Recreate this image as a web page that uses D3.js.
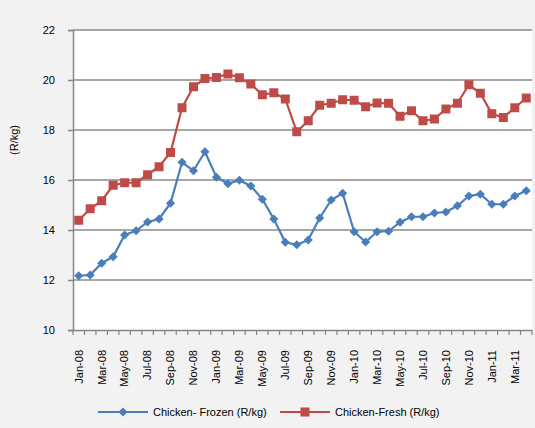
<!DOCTYPE html>
<html><head><meta charset="utf-8">
<script src="https://cdn.jsdelivr.net/npm/d3@7"></script>
<style>body{margin:0;background:#f2f2f2;}svg{display:block;font-family:"Liberation Sans",Arial,sans-serif;}</style>
</head><body><svg id="c" width="535" height="428"></svg>
<script>
const months = ["Jan-08","Feb-08","Mar-08","Apr-08","May-08","Jun-08","Jul-08","Aug-08","Sep-08","Oct-08","Nov-08","Dec-08",
"Jan-09","Feb-09","Mar-09","Apr-09","May-09","Jun-09","Jul-09","Aug-09","Sep-09","Oct-09","Nov-09","Dec-09",
"Jan-10","Feb-10","Mar-10","Apr-10","May-10","Jun-10","Jul-10","Aug-10","Sep-10","Oct-10","Nov-10","Dec-10",
"Jan-11","Feb-11","Mar-11","Apr-11"];
const frozen = [12.17,12.2,12.67,12.93,13.8,13.97,14.32,14.44,15.07,16.71,16.37,17.13,
16.11,15.85,15.99,15.76,15.23,14.44,13.51,13.41,13.6,14.48,15.2,15.47,
13.93,13.52,13.93,13.95,14.31,14.53,14.53,14.68,14.72,14.97,15.36,15.43,
15.03,15.03,15.36,15.57];
const fresh = [14.39,14.85,15.17,15.79,15.89,15.89,16.21,16.53,17.1,18.89,19.73,20.06,
20.1,20.24,20.09,19.84,19.41,19.49,19.24,17.93,18.37,18.99,19.07,19.21,
19.19,18.93,19.08,19.07,18.55,18.77,18.37,18.44,18.84,19.07,19.81,19.47,
18.65,18.5,18.89,19.28];
const yTicks = [10,12,14,16,18,20,22];
const seriesNames = ["Chicken- Frozen (R/kg)","Chicken-Fresh (R/kg)"];
const colors = ["#4a7ebb","#be4b48"];

const svg = d3.select("#c");
const L=73,R=532,T=30,B=330;
const x = d3.scaleBand().domain(months).range([L,R]).padding(0);
const y = d3.scaleLinear().domain([10,22]).range([B,T]);
const cx = d => x(d)+x.bandwidth()/2;

svg.append("rect").attr("x",L).attr("y",T).attr("width",R-L).attr("height",B-T).attr("fill","#fff");

// gridlines + y axis
const ya = svg.append("g").attr("transform",`translate(${L},0)`)
  .call(d3.axisLeft(y).tickValues(yTicks).tickSize(5).tickPadding(13).tickFormat(d3.format("d")));
ya.select(".domain").attr("stroke","#868686").attr("stroke-width",1.5);
ya.selectAll(".tick line").attr("stroke","#868686").attr("stroke-width",1.5);
ya.selectAll(".tick text").attr("font-size",11).attr("fill","#000").attr("font-family","Liberation Sans, Arial");
const grid = svg.append("g");
grid.selectAll("line").data(yTicks.filter(v=>v>10)).join("line")
  .attr("x1",L).attr("x2",R).attr("y1",d=>y(d)).attr("y2",d=>y(d))
  .attr("stroke","#8a8a8a").attr("stroke-width",1.5);

// x axis
const xa = svg.append("g").attr("transform",`translate(0,${B})`)
  .call(d3.axisBottom(x).tickSize(0).tickFormat((d,i)=> i%2===0? d : ""));
xa.select(".domain").attr("stroke","#868686").attr("stroke-width",1.5);
xa.selectAll(".tick text").attr("font-size",11).attr("fill","#000")
  .attr("text-anchor","end").attr("dy","0.35em")
  .attr("transform","translate(0,20) rotate(-90)").attr("x",0).attr("y",0);
svg.append("g").selectAll("line").data(months.concat(["end"])).join("line")
  .attr("x1",(d,i)=> i<months.length? x(d) : R).attr("x2",(d,i)=> i<months.length? x(d) : R)
  .attr("y1",B).attr("y2",B+5).attr("stroke","#868686").attr("stroke-width",1.2);

// y title
svg.append("text").attr("transform","translate(18,140) rotate(-90)").attr("text-anchor","middle")
  .attr("font-size",11).text("(R/kg)");

const line = d3.line().x((d,i)=>cx(months[i])).y(d=>y(d));
const diamond = d3.symbol().type(d3.symbolSquare).size(42);
const square = d3.symbol().type(d3.symbolSquare).size(81);

[frozen,fresh].forEach((data,k)=>{
  svg.append("path").datum(data).attr("d",line).attr("fill","none").attr("stroke",colors[k]).attr("stroke-width",2.2);
  svg.append("g").selectAll("path").data(data).join("path")
    .attr("d", k===0? diamond : square)
    .attr("transform",(d,i)=>`translate(${cx(months[i])},${y(d)})` + (k===0?" rotate(45)":""))
    .attr("fill",colors[k]);
});

// legend
const lg = [{x1:98,tx:153},{x1:280,tx:335}];
lg.forEach((p,k)=>{
  svg.append("line").attr("x1",p.x1).attr("x2",p.x1+50).attr("y1",412).attr("y2",412)
    .attr("stroke",colors[k]).attr("stroke-width",2.2);
  svg.append("path").attr("d",k===0?diamond:square).attr("transform",`translate(${p.x1+25},412)`+(k===0?" rotate(45)":""))
    .attr("fill",colors[k]);
  svg.append("text").attr("x",p.tx).attr("y",412).attr("dy","0.35em").attr("font-size",11).text(seriesNames[k]);
});
</script></body></html>
